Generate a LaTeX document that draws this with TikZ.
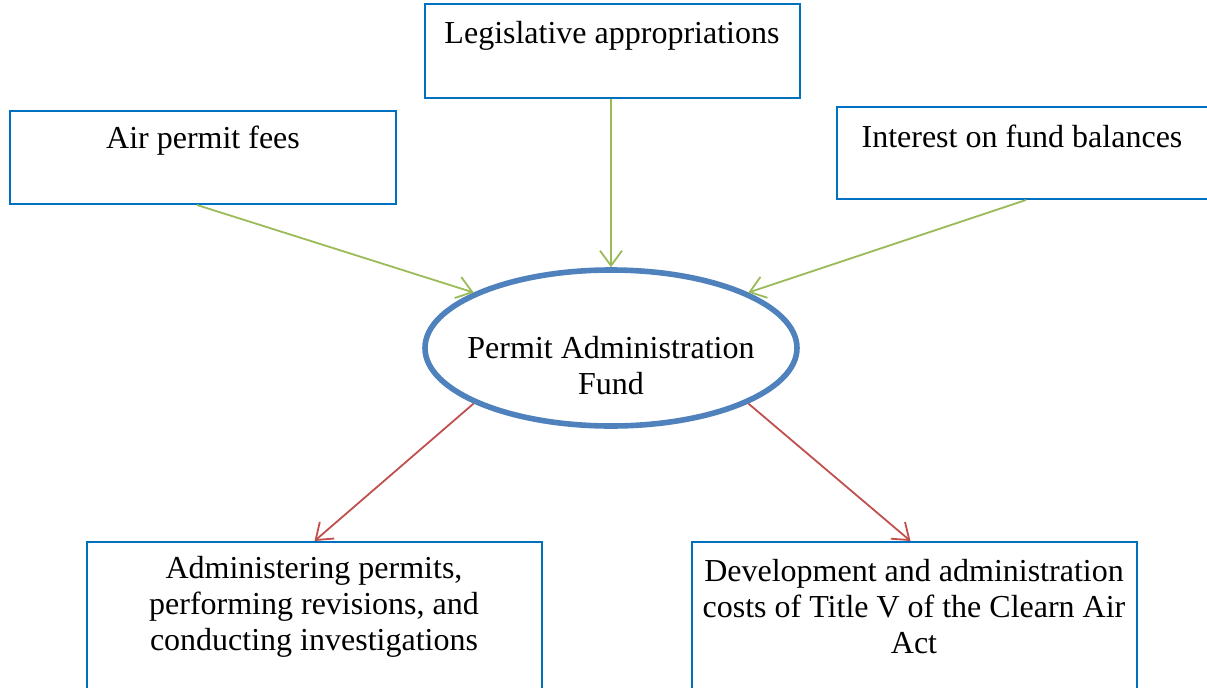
\documentclass[tikz,border=0pt]{standalone}
\usepackage{fontspec}
\setmainfont{Liberation Serif}
\usetikzlibrary{arrows.meta,shapes.geometric}
\definecolor{boxblue}{HTML}{0070C0}
\definecolor{ellblue}{HTML}{4F81BD}
\definecolor{ingreen}{HTML}{9BBB59}
\definecolor{outred}{HTML}{C0504D}
\tikzset{
  box/.style={draw=boxblue, line width=1pt, rectangle, inner sep=0pt},
  txt/.style={align=center, inner sep=0pt, font=\fontsize{16}{18}\selectfont},
  fundell/.style={draw=ellblue, line width=2.8pt, ellipse, inner sep=0pt, minimum width=186pt, minimum height=78pt},
  inarrow/.style={draw=ingreen, line width=0.9pt, -{Straight Barb[length=7.5pt,width=11pt]}},
  outarrow/.style={draw=outred, line width=0.9pt, -{Straight Barb[length=7.5pt,width=11pt]}}
}
\begin{document}
\begin{tikzpicture}[x=0.5pt,y=-0.5pt]
\useasboundingbox (0,0) rectangle (1207,687);
\begin{scope}
\clip (0,0) rectangle (1207,687);
% boxes
\node[box, minimum width=187.5pt, minimum height=47pt] (leg) at (612.5,51) {};
\node[box, minimum width=193pt, minimum height=46.5pt] (air) at (203,157.5) {};
\node[box, minimum width=189pt, minimum height=46pt] (int) at (1026,153) {};
\node[box, minimum width=227.5pt, minimum height=89pt] (adm) at (314.5,631) {};
\node[box, minimum width=222.5pt, minimum height=89pt] (dev) at (914.5,631) {};
% ellipse
\node[fundell] (fund) at (611,348) {};
% texts
\node[txt] (legt) at (612,36) {Legislative appropriations};
\node[txt] (airt) at (203,141) {Air permit fees};
\node[txt] (intt) at (1022,136) {Interest on fund balances};
\node[txt] (fundt) at (611,366) {Permit Administration\\Fund};
\node[txt] (admt) at (314,607) {Administering permits,\\performing revisions, and\\conducting investigations};
\node[txt] (devt) at (914,607) {Development and administration\\costs of Title V of the Clearn Air\\Act};
% connectors
\draw[inarrow] ([xshift=-3pt]air.south) -- (fund.158);
\draw[inarrow] ([xshift=-0.75pt]leg.south) -- (fund.north);
\draw[inarrow] (int.south) -- (fund.22);
\draw[outarrow] (fund.202) -- (adm.north);
\draw[outarrow] (fund.338) -- ([xshift=-2pt]dev.north);
\end{scope}
\end{tikzpicture}
\end{document}
